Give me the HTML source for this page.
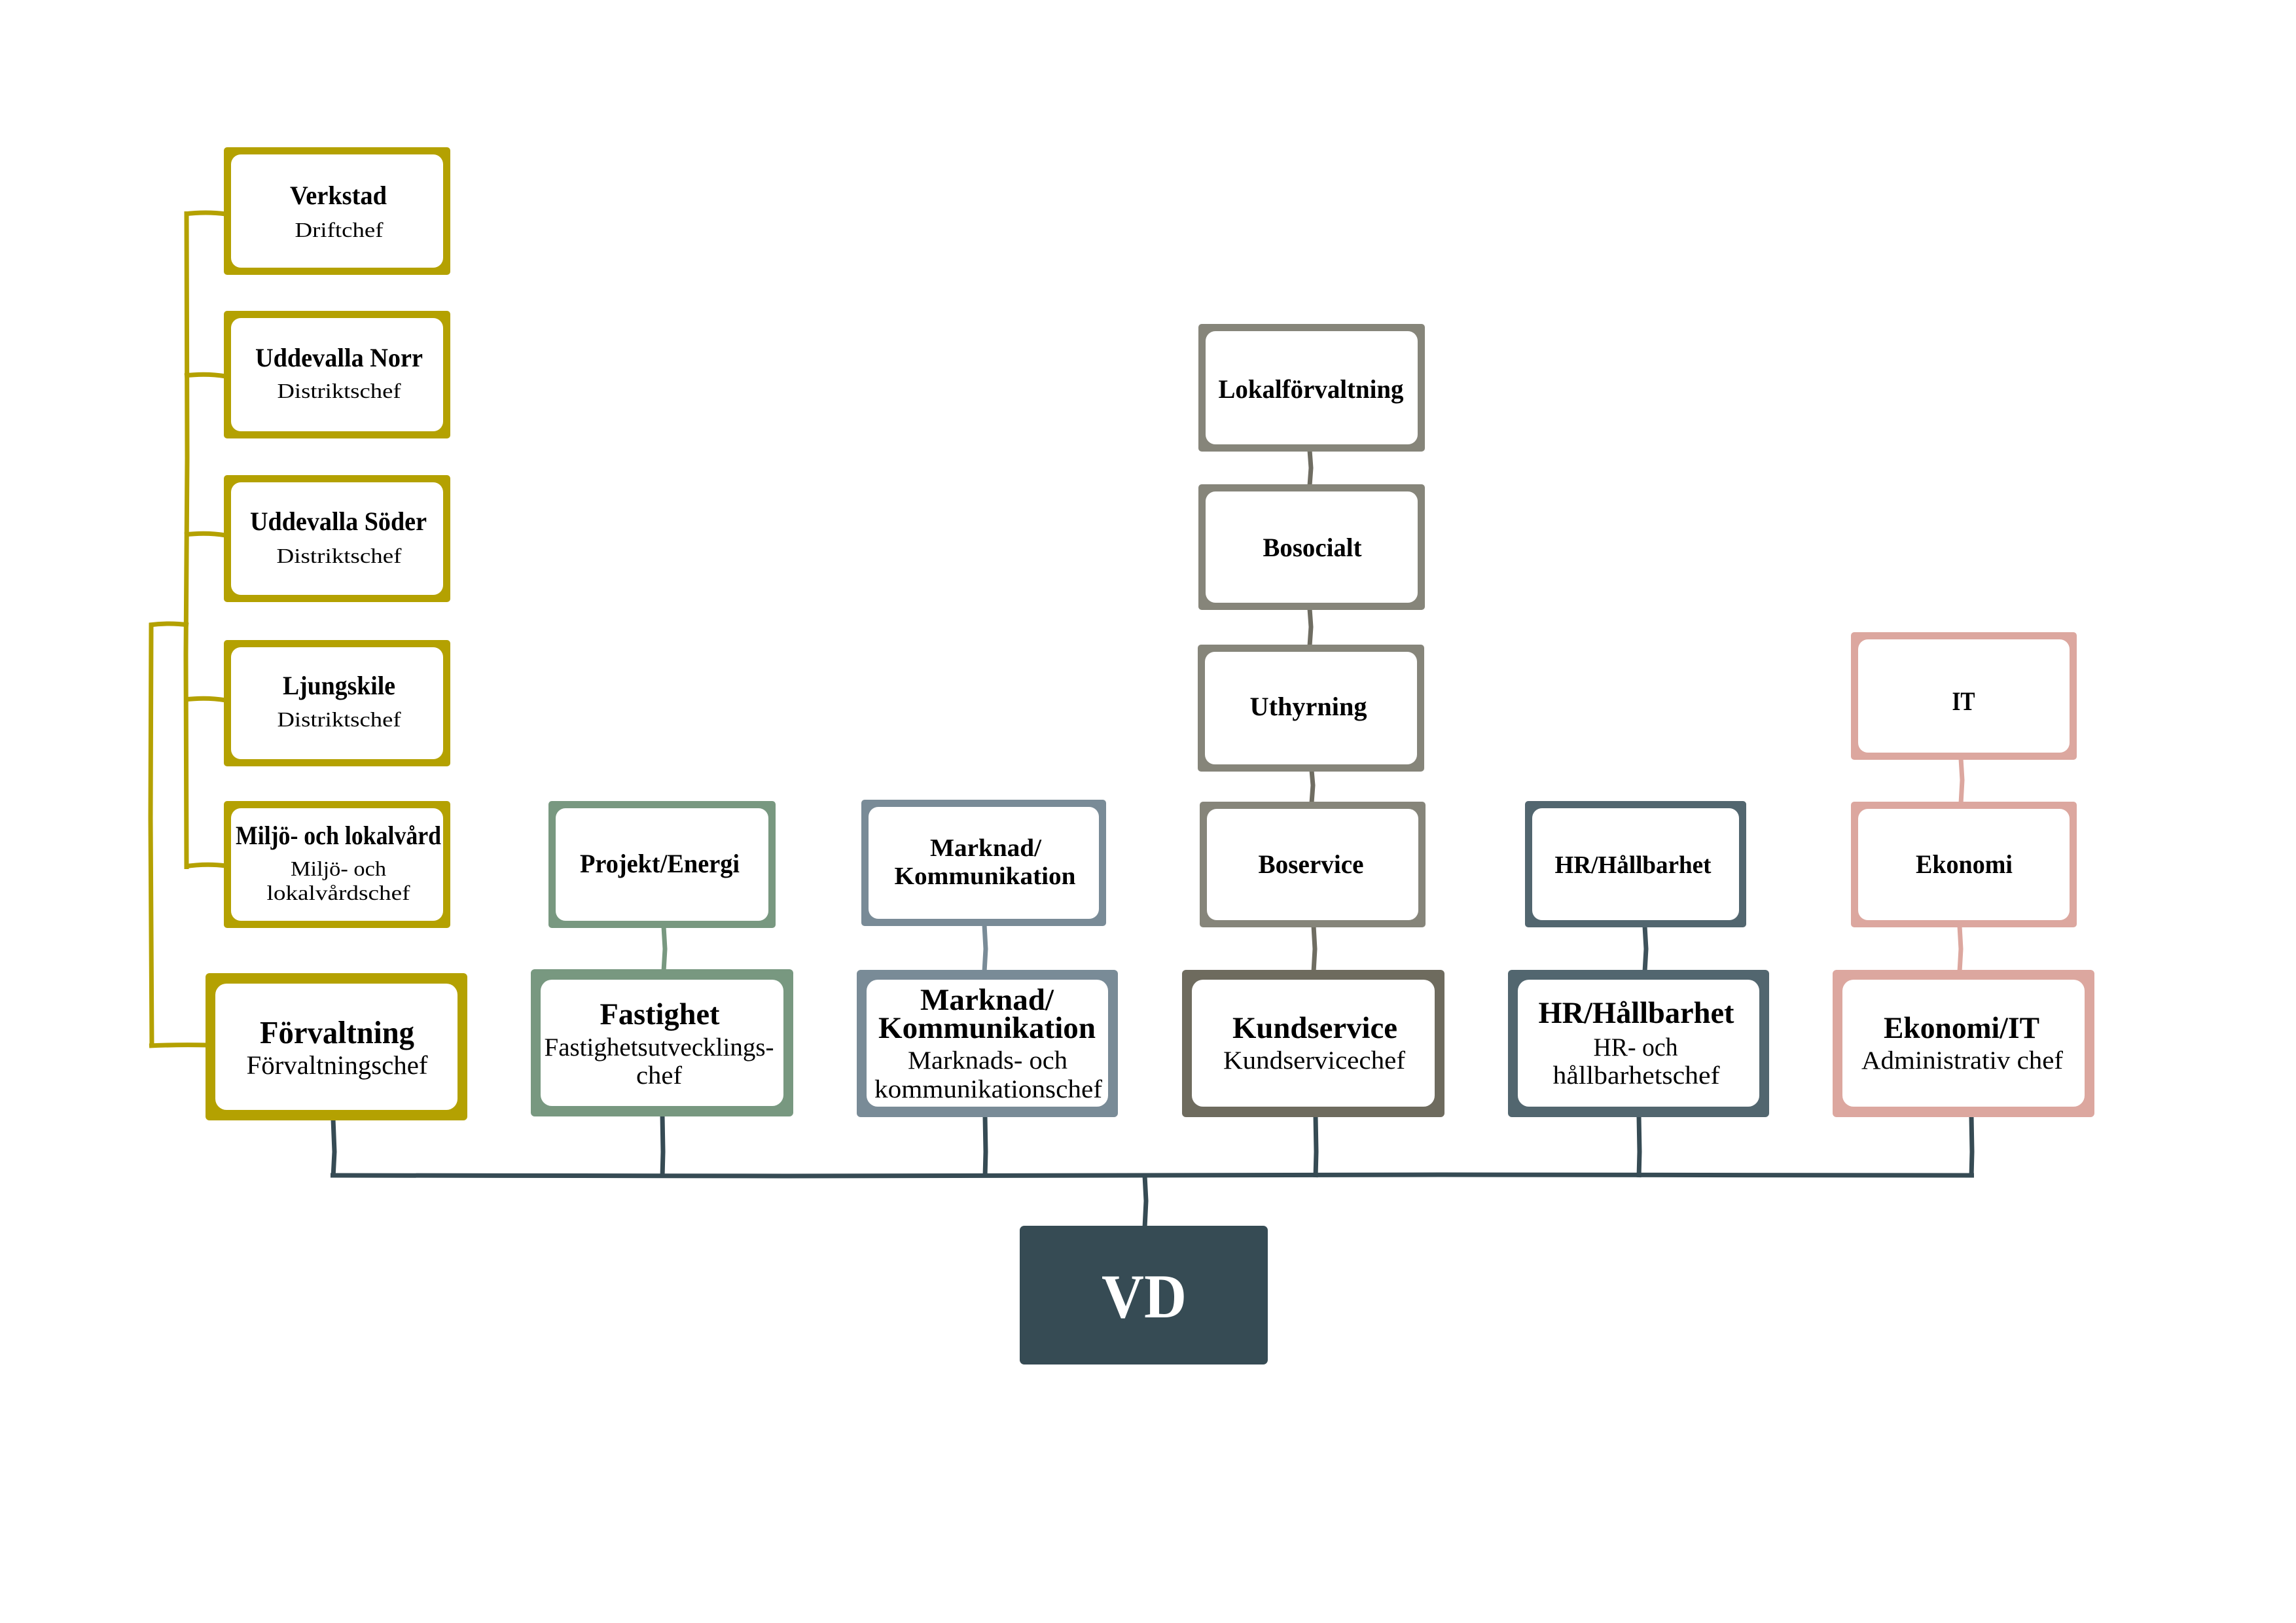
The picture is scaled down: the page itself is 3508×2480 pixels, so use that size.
<!DOCTYPE html>
<html>
<head>
<meta charset="utf-8">
<style>
html,body{margin:0;padding:0;background:#fff;}
svg{display:block;}
text{font-family:"Liberation Serif","DejaVu Serif",serif;fill:#000;}
.b{font-weight:bold;}
</style>
</head>
<body>
<svg width="3508" height="2480" viewBox="0 0 3508 2480" xmlns="http://www.w3.org/2000/svg">
<rect x="0" y="0" width="3508" height="2480" fill="#fff"/>

<!-- ===== Connectors ===== -->
<g stroke-linecap="butt" fill="none">
  <!-- olive brackets -->
  <g stroke="#b4a101" stroke-width="7">
    <path d="M285 323 L286 700 L284 1000 L285 1328"/>
    <path d="M282 327 Q315 323 345 327"/>
    <path d="M282 574 Q315 570 345 575"/>
    <path d="M282 817 Q315 813 345 818"/>
    <path d="M282 1069 Q315 1065 345 1070"/>
    <path d="M282 1324 Q315 1319 345 1323"/>
    <path d="M228 955 Q258 951 288 955"/>
    <path d="M231 952 L230 1250 L232 1601"/>
    <path d="M228 1598 Q270 1596 318 1597"/>
  </g>
  <!-- main bus -->
  <g stroke="#364b54" stroke-width="7">
    <path d="M505 1796 L1200 1797 L2200 1795 L3016 1796"/>
    <path d="M509 1710 L511 1760 L509 1799"/>
    <path d="M1012 1704 L1013 1760 L1012 1799"/>
    <path d="M1505 1705 L1506 1760 L1505 1799"/>
    <path d="M2010 1705 L2011 1760 L2010 1799"/>
    <path d="M2504 1705 L2505 1760 L2504 1799"/>
    <path d="M3012 1705 L3013 1760 L3012 1799"/>
    <path d="M1749 1796 L1751 1835 L1749 1876"/>
  </g>
  <!-- column connectors -->
  <path d="M1014 1416 L1016 1450 L1014 1484" stroke="#789880" stroke-width="7"/>
  <path d="M1504 1413 L1506 1450 L1504 1485" stroke="#798b97" stroke-width="7"/>
  <g stroke="#6f6d62" stroke-width="7">
    <path d="M2001 688 L2003 715 L2001 742"/>
    <path d="M2001 930 L2003 958 L2001 987"/>
    <path d="M2004 1177 L2006 1200 L2004 1227"/>
    <path d="M2007 1415 L2009 1450 L2007 1485"/>
  </g>
  <path d="M2513 1415 L2515 1450 L2513 1485" stroke="#3e525b" stroke-width="7"/>
  <g stroke="#dca79f" stroke-width="7">
    <path d="M2996 1159 L2998 1192 L2996 1228"/>
    <path d="M2994 1415 L2996 1450 L2994 1485"/>
  </g>
</g>

<!-- ===== Boxes ===== -->
<!-- olive small -->
<g>
  <rect x="342" y="225" width="346" height="195" rx="5" fill="#b4a101"/>
  <rect x="353" y="236" width="324" height="173" rx="15" fill="#fff"/>
  <rect x="342" y="475" width="346" height="195" rx="5" fill="#b4a101"/>
  <rect x="353" y="486" width="324" height="173" rx="15" fill="#fff"/>
  <rect x="342" y="726" width="346" height="194" rx="5" fill="#b4a101"/>
  <rect x="353" y="737" width="324" height="172" rx="15" fill="#fff"/>
  <rect x="342" y="978" width="346" height="193" rx="5" fill="#b4a101"/>
  <rect x="353" y="989" width="324" height="171" rx="15" fill="#fff"/>
  <rect x="342" y="1224" width="346" height="194" rx="5" fill="#b4a101"/>
  <rect x="353" y="1235" width="324" height="172" rx="15" fill="#fff"/>
  <!-- olive big -->
  <rect x="314" y="1487" width="400" height="225" rx="6" fill="#b4a101"/>
  <rect x="329" y="1503" width="370" height="193" rx="17" fill="#fff"/>
</g>
<!-- green -->
<rect x="838" y="1224" width="347" height="194" rx="5" fill="#789880"/>
<rect x="849" y="1235" width="325" height="172" rx="15" fill="#fff"/>
<rect x="811" y="1481" width="401" height="225" rx="6" fill="#789880"/>
<rect x="826" y="1497" width="371" height="193" rx="17" fill="#fff"/>
<!-- marknad -->
<rect x="1316" y="1222" width="374" height="193" rx="5" fill="#798b97"/>
<rect x="1327" y="1233" width="352" height="171" rx="15" fill="#fff"/>
<rect x="1309" y="1482" width="399" height="225" rx="6" fill="#798b97"/>
<rect x="1324" y="1497" width="369" height="194" rx="17" fill="#fff"/>
<!-- gray column -->
<rect x="1831" y="495" width="346" height="195" rx="5" fill="#86857a"/>
<rect x="1842" y="506" width="324" height="173" rx="15" fill="#fff"/>
<rect x="1831" y="740" width="346" height="192" rx="5" fill="#86857a"/>
<rect x="1842" y="751" width="324" height="170" rx="15" fill="#fff"/>
<rect x="1830" y="985" width="346" height="194" rx="5" fill="#86857a"/>
<rect x="1841" y="996" width="324" height="172" rx="15" fill="#fff"/>
<rect x="1833" y="1225" width="345" height="192" rx="5" fill="#86857a"/>
<rect x="1844" y="1236" width="323" height="170" rx="15" fill="#fff"/>
<rect x="1806" y="1482" width="401" height="225" rx="6" fill="#6e6b5e"/>
<rect x="1821" y="1497" width="371" height="194" rx="17" fill="#fff"/>
<!-- HR -->
<rect x="2330" y="1224" width="338" height="193" rx="5" fill="#52666f"/>
<rect x="2341" y="1235" width="316" height="171" rx="15" fill="#fff"/>
<rect x="2304" y="1482" width="399" height="225" rx="6" fill="#52666f"/>
<rect x="2319" y="1497" width="369" height="194" rx="17" fill="#fff"/>
<!-- pink -->
<rect x="2828" y="966" width="345" height="195" rx="5" fill="#dca79f"/>
<rect x="2839" y="977" width="323" height="173" rx="15" fill="#fff"/>
<rect x="2828" y="1225" width="345" height="192" rx="5" fill="#dca79f"/>
<rect x="2839" y="1236" width="323" height="170" rx="15" fill="#fff"/>
<rect x="2800" y="1482" width="400" height="225" rx="6" fill="#dca79f"/>
<rect x="2815" y="1497" width="370" height="194" rx="17" fill="#fff"/>
<!-- VD -->
<rect x="1558" y="1873" width="379" height="212" rx="7" fill="#364b54"/>

<!-- ===== Text ===== -->
<g text-anchor="middle">
  <text class="b" x="517" y="312" font-size="40" textLength="148" lengthAdjust="spacingAndGlyphs">Verkstad</text>
  <text x="518" y="362" font-size="32" textLength="135" lengthAdjust="spacingAndGlyphs">Driftchef</text>

  <text class="b" x="518" y="560" font-size="40" textLength="256" lengthAdjust="spacingAndGlyphs">Uddevalla Norr</text>
  <text x="518" y="608" font-size="32" textLength="189" lengthAdjust="spacingAndGlyphs">Distriktschef</text>

  <text class="b" x="517" y="810" font-size="40" textLength="270" lengthAdjust="spacingAndGlyphs">Uddevalla Söder</text>
  <text x="518" y="860" font-size="32" textLength="191" lengthAdjust="spacingAndGlyphs">Distriktschef</text>

  <text class="b" x="518" y="1061" font-size="40" textLength="172" lengthAdjust="spacingAndGlyphs">Ljungskile</text>
  <text x="518" y="1110" font-size="32" textLength="189" lengthAdjust="spacingAndGlyphs">Distriktschef</text>

  <text class="b" x="517" y="1290" font-size="40" textLength="314" lengthAdjust="spacingAndGlyphs">Miljö- och lokalvård</text>
  <text x="517" y="1338" font-size="32" textLength="146" lengthAdjust="spacingAndGlyphs">Miljö- och</text>
  <text x="517" y="1375" font-size="32" textLength="219" lengthAdjust="spacingAndGlyphs">lokalvårdschef</text>

  <text class="b" x="515" y="1594" font-size="49" textLength="236" lengthAdjust="spacingAndGlyphs">Förvaltning</text>
  <text x="515" y="1641" font-size="40" textLength="277" lengthAdjust="spacingAndGlyphs">Förvaltningschef</text>

  <text class="b" x="1008" y="1333" font-size="40" textLength="244" lengthAdjust="spacingAndGlyphs">Projekt/Energi</text>

  <text class="b" x="1008" y="1565" font-size="47" textLength="183" lengthAdjust="spacingAndGlyphs">Fastighet</text>
  <text x="1007" y="1613" font-size="39" textLength="351" lengthAdjust="spacingAndGlyphs">Fastighetsutvecklings-</text>
  <text x="1007" y="1656" font-size="39" textLength="70" lengthAdjust="spacingAndGlyphs">chef</text>

  <text class="b" x="1506" y="1308" font-size="38" textLength="170" lengthAdjust="spacingAndGlyphs">Marknad/</text>
  <text class="b" x="1505" y="1351" font-size="38" textLength="277" lengthAdjust="spacingAndGlyphs">Kommunikation</text>

  <text class="b" x="1508" y="1543" font-size="47" textLength="204" lengthAdjust="spacingAndGlyphs">Marknad/</text>
  <text class="b" x="1508" y="1586" font-size="47" textLength="332" lengthAdjust="spacingAndGlyphs">Kommunikation</text>
  <text x="1509" y="1633" font-size="39" textLength="244" lengthAdjust="spacingAndGlyphs">Marknads- och</text>
  <text x="1510" y="1677" font-size="39" textLength="348" lengthAdjust="spacingAndGlyphs">kommunikationschef</text>

  <text class="b" x="2003" y="608" font-size="40" textLength="283" lengthAdjust="spacingAndGlyphs">Lokalförvaltning</text>
  <text class="b" x="2005" y="850" font-size="40" textLength="151" lengthAdjust="spacingAndGlyphs">Bosocialt</text>
  <text class="b" x="1999" y="1093" font-size="40" textLength="179" lengthAdjust="spacingAndGlyphs">Uthyrning</text>
  <text class="b" x="2003" y="1334" font-size="40" textLength="161" lengthAdjust="spacingAndGlyphs">Boservice</text>

  <text class="b" x="2009" y="1586" font-size="47" textLength="252" lengthAdjust="spacingAndGlyphs">Kundservice</text>
  <text x="2008" y="1633" font-size="39" textLength="278" lengthAdjust="spacingAndGlyphs">Kundservicechef</text>

  <text class="b" x="2495" y="1334" font-size="38" textLength="239" lengthAdjust="spacingAndGlyphs">HR/Hållbarhet</text>

  <text class="b" x="2500" y="1563" font-size="47" textLength="299" lengthAdjust="spacingAndGlyphs">HR/Hållbarhet</text>
  <text x="2499" y="1613" font-size="39" textLength="129" lengthAdjust="spacingAndGlyphs">HR- och</text>
  <text x="2500" y="1656" font-size="39" textLength="255" lengthAdjust="spacingAndGlyphs">hållbarhetschef</text>

  <text class="b" x="3000" y="1085" font-size="40" textLength="35" lengthAdjust="spacingAndGlyphs">IT</text>
  <text class="b" x="3001" y="1334" font-size="40" textLength="148" lengthAdjust="spacingAndGlyphs">Ekonomi</text>

  <text class="b" x="2997" y="1586" font-size="47" textLength="238" lengthAdjust="spacingAndGlyphs">Ekonomi/IT</text>
  <text x="2998" y="1633" font-size="39" textLength="308" lengthAdjust="spacingAndGlyphs">Administrativ chef</text>

  <text class="b" x="1748" y="2013" font-size="95" textLength="130" lengthAdjust="spacingAndGlyphs" style="fill:#fff">VD</text>
</g>
</svg>
</body>
</html>
